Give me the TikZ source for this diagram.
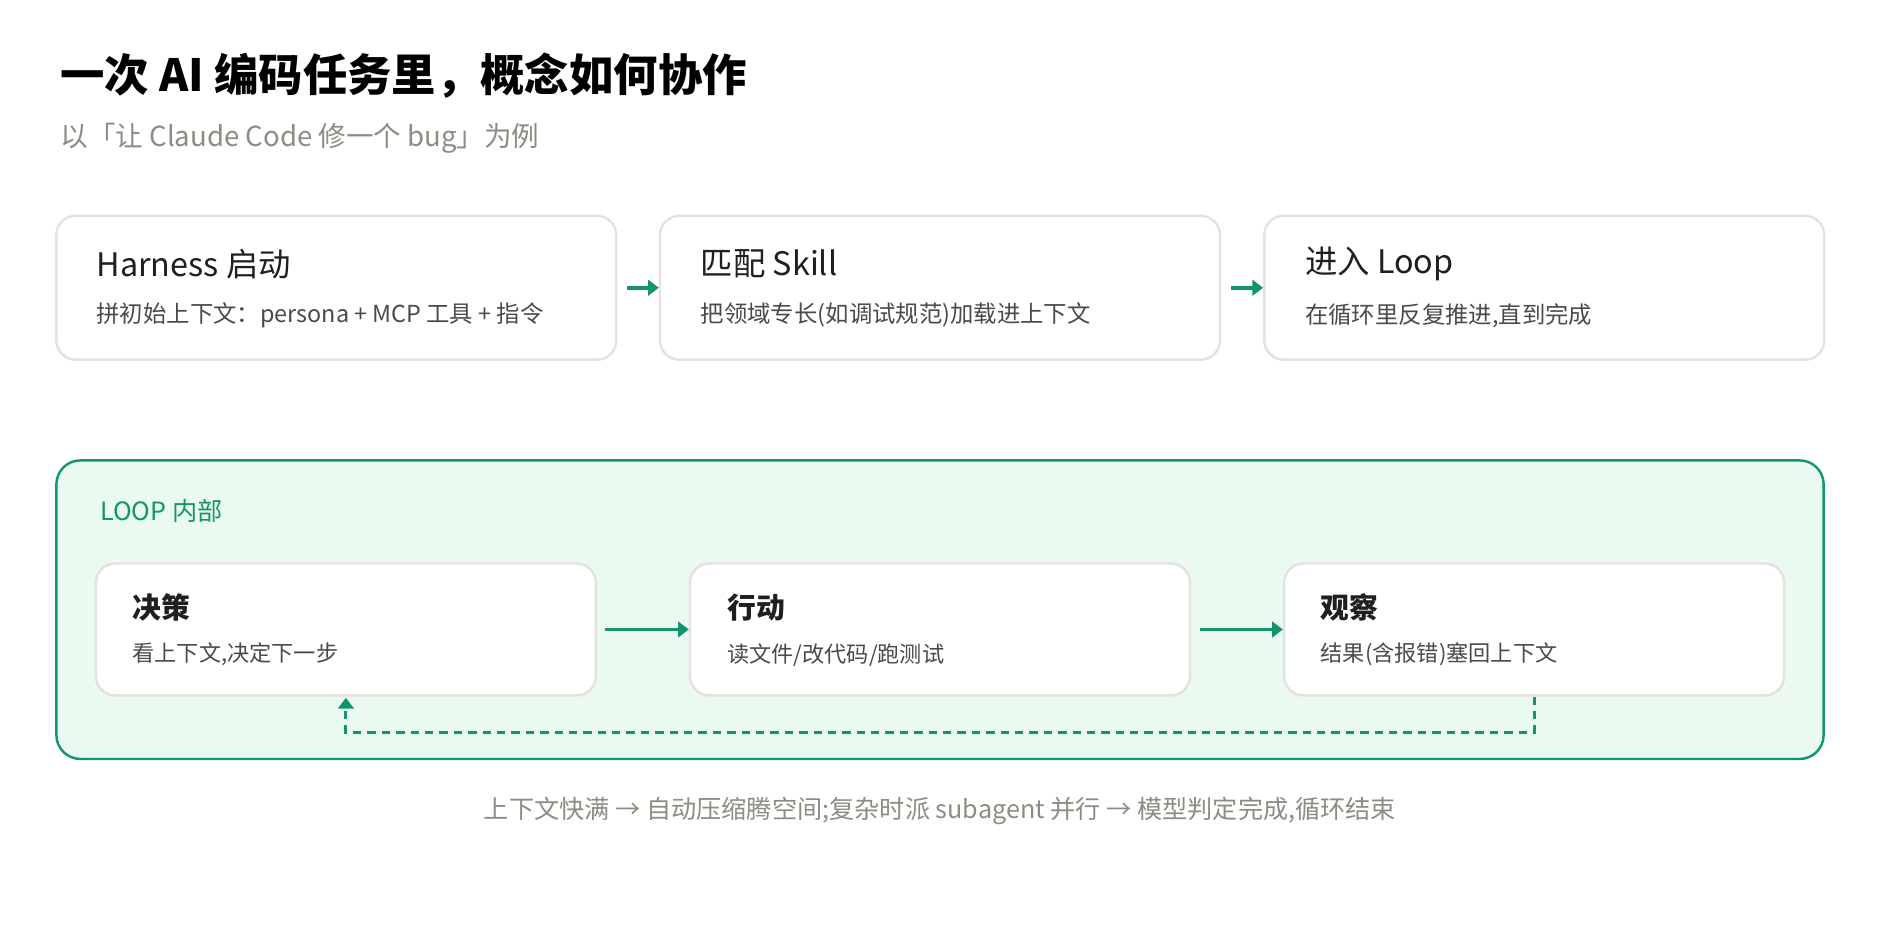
\documentclass[tikz,border=0pt]{standalone}
\usepackage{fontspec}
\setmainfont{Noto Sans CJK SC}
\usepackage{xcolor}
\usetikzlibrary{arrows.meta}
\definecolor{flowgreen}{HTML}{12956A}
\definecolor{loopfill}{HTML}{EAFAF1}
\definecolor{cardline}{HTML}{E4E2DB}
\definecolor{subgray}{HTML}{8C8C80}
\definecolor{txtgray}{HTML}{4A4A4A}
\tikzset{
    card/.style = {draw=cardline, fill=white, line width=2pt, rounded corners=16pt, minimum height=120pt, minimum width=467pt},
    inner-card/.style = {card, minimum height=110pt, minimum width=417pt},
    card-title/.style = {anchor=west, font=\fontsize{27}{30}\selectfont, text=black!88},
    card-text/.style = {anchor=west, font=\fontsize{19.5}{22}\selectfont, text=txtgray},
    flow/.style = {draw=flowgreen, line width=3pt, -{Triangle[length=9pt,width=13pt]}},
}
\begin{document}
\begin{tikzpicture}[x=1pt,y=-1pt]
\useasboundingbox (0,0) rectangle (1568,784);
\node[anchor=west, font=\fontsize{37}{40}\selectfont\bfseries] (title) at (47,63) {一次 AI 编码任务里，概念如何协作};
\node[anchor=west, font=\fontsize{23}{26}\selectfont, text=subgray] (subtitle) at (47,115) {以「让 Claude Code 修一个 bug」为例};
% top row
\node[card] (harness) at (280.5,240) {};
\node[card] (skill) at (784,240) {};
\node[card] (enter) at (1288,240) {};
\node[card-title] at (77,220) {Harness 启动};
\node[card-text] at (77,263) {拼初始上下文：persona + MCP 工具 + 指令};
\node[card-title] at (581,220) {匹配 Skill};
\node[card-text] at (581,263) {把领域专长(如调试规范)加载进上下文};
\node[card-title] at (1085,220) {进入 Loop};
\node[card-text] at (1085,263) {在循环里反复推进,直到完成};
\draw[flow] (harness.east) ++(8,0) -- (skill.west);
\draw[flow] (skill.east) ++(8,0) -- (enter.west);
% loop
\node[draw=flowgreen, fill=loopfill, line width=2pt, rounded corners=20pt, minimum width=1474pt, minimum height=249pt] (loop) at (784,508.5) {};
\node[anchor=west, font=\fontsize{21}{24}\selectfont, text=flowgreen] (looplabel) at (80,426) {LOOP 内部};
\node[inner-card] (decide) at (288.5,525) {};
\node[inner-card] (act) at (784,525) {};
\node[inner-card] (observe) at (1279.5,525) {};
\node[card-title, font=\fontsize{24}{28}\selectfont\bfseries] at (107,507) {决策};
\node[card-text, font=\fontsize{18.5}{22}\selectfont] at (107,546) {看上下文,决定下一步};
\node[card-title, font=\fontsize{24}{28}\selectfont\bfseries] at (603,507) {行动};
\node[card-text, font=\fontsize{18.5}{22}\selectfont] at (603,546) {读文件/改代码/跑测试};
\node[card-title, font=\fontsize{24}{28}\selectfont\bfseries] at (1098,507) {观察};
\node[card-text, font=\fontsize{18.5}{22}\selectfont] at (1098,546) {结果(含报错)塞回上下文};
\draw[flow] (decide.east) ++(7,0) -- (act.west);
\draw[flow] (act.east) ++(7,0) -- (observe.west);
\draw[flow, line width=2.5pt, dash pattern=on 7pt off 5pt] (observe.south) -- ++(0,30) -| ([yshift=-1pt]decide.south);
% footer
\node[font=\fontsize{21}{24}\selectfont, text=subgray] (footer) at (784,676) {上下文快满 → 自动压缩腾空间;复杂时派 subagent 并行 → 模型判定完成,循环结束};
\end{tikzpicture}
\end{document}
